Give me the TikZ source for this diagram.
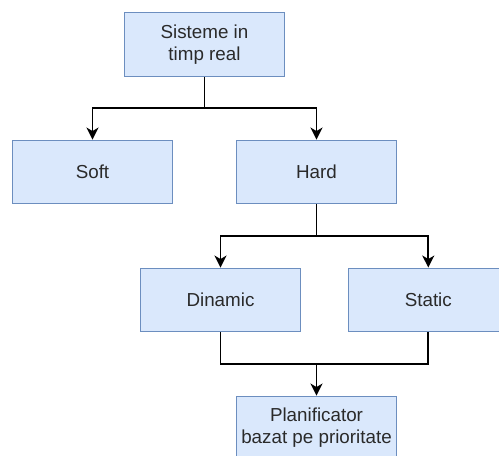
\documentclass[tikz,border=0pt]{standalone}
\usepackage{fontspec}
\setmainfont{Liberation Sans}
\usetikzlibrary{arrows.meta}
\definecolor{boxfill}{HTML}{DAE8FC}
\definecolor{boxline}{HTML}{6C8EBF}
\definecolor{txt}{HTML}{2A2A2A}
\begin{document}
\begin{tikzpicture}[x=1pt,y=-1pt,
  box/.style={draw=boxline,fill=boxfill,line width=1.4pt,minimum width=160pt,minimum height=63.5pt,
    inner sep=0pt,align=center,text=txt,font=\fontsize{18.8pt}{22pt}\selectfont},
  conn/.style={line width=1.7pt,black},
  arr/.style={conn,-{Stealth[length=12pt,width=12pt,inset=3.5pt]}}]
\useasboundingbox (0,0) rectangle (499,456);
\clip (0,0) rectangle (499,456);
\node[box] (top) at (204.5,44.5) {Sisteme in\\timp real};
\node[box] (soft) at (92.5,172) {Soft};
\node[box] (hard) at (316.5,172) {Hard};
\node[box] (din) at (220.5,300) {Dinamic};
\node[box] (stat) at (428.3,300) {Static};
\node[box] (plan) at (316.5,428) {Planificator\\bazat pe prioritate};
\coordinate (j1) at (204.5,108.3);
\coordinate (j2) at (316.5,236.3);
\coordinate (j3) at (316.5,364);
\draw[conn] (top.south) -- (j1);
\draw[arr] (j1) -| (soft.north);
\draw[arr] (j1) -| (hard.north);
\draw[conn] (hard.south) -- (j2);
\draw[arr] (j2) -| (din.north);
\draw[arr] (j2) -| (stat.north);
\draw[conn] (din.south) |- (j3);
\draw[conn] (stat.south) |- (j3);
\draw[arr] (j3) -- (plan.north);
\end{tikzpicture}
\end{document}
